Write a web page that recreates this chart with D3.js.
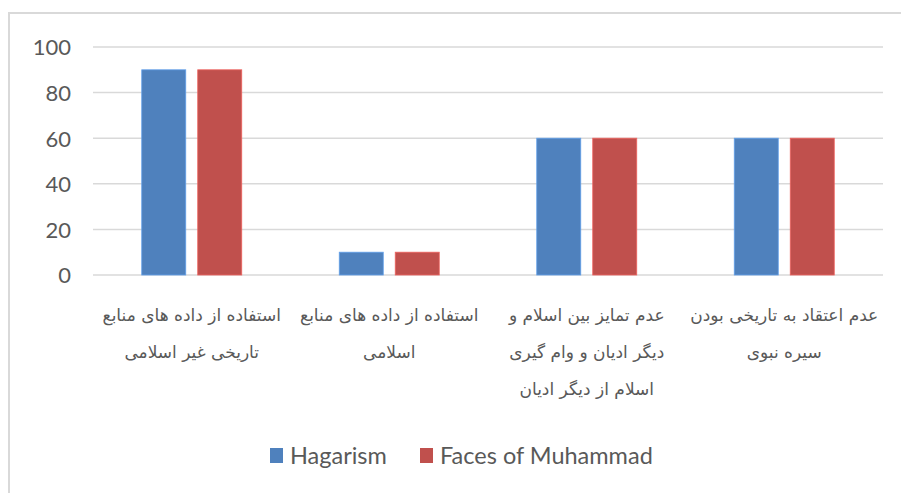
<!DOCTYPE html>
<html>
<head>
<meta charset="utf-8">
<script src="https://cdn.jsdelivr.net/npm/d3@7"></script>
<style>
  html, body { margin: 0; padding: 0; background: #fff; overflow: hidden; }
  svg { display: block; }
</style>
</head>
<body>
<svg id="chart" width="901" height="493"></svg>
<script>
// Categories (left to right), each split into its wrapped lines
const categories = [
  "استفاده از داده های منابع تاریخی غیر اسلامی",
  "استفاده از داده های منابع اسلامی",
  "عدم تمایز بین اسلام و دیگر ادیان و وام گیری اسلام از دیگر ادیان",
  "عدم اعتقاد به تاریخی بودن سیره نبوی"
];
const categoryLines = [
  ["استفاده از داده های منابع", "تاریخی غیر اسلامی"],
  ["استفاده از داده های منابع", "اسلامی"],
  ["عدم تمایز بین اسلام و", "دیگر ادیان و وام گیری", "اسلام از دیگر ادیان"],
  ["عدم اعتقاد به تاریخی بودن", "سیره نبوی"]
];
const seriesNames = ["Hagarism", "Faces of Muhammad"];
const hagarism = [90, 10, 60, 60];
const facesOfMuhammad = [90, 10, 60, 60];
const yTicks = [0, 20, 40, 60, 80, 100];
const colors = ["#4f81bd", "#c0504d"];

const svg = d3.select("#chart");

// chart area frame (extends past the right and bottom edges)
svg.append("rect")
  .attr("x", 9).attr("y", 13)
  .attr("width", 920).attr("height", 500)
  .attr("fill", "#fff")
  .attr("stroke", "#d9d9d9")
  .attr("stroke-width", 2);

const plot = { left: 93, right: 883, top: 47, bottom: 275 };

const y = d3.scaleLinear().domain([0, 100]).range([plot.bottom, plot.top]);

const x0 = d3.scaleBand()
  .domain(categories)
  .range([plot.left, plot.right])
  .paddingInner(0.4937)
  .paddingOuter(0.2468);

const x1 = d3.scaleBand()
  .domain(seriesNames)
  .range([0, x0.bandwidth()])
  .paddingInner(0.214);

// gridlines
svg.append("g")
  .selectAll("line")
  .data(yTicks)
  .join("line")
  .attr("x1", plot.left).attr("x2", plot.right)
  .attr("y1", d => y(d)).attr("y2", d => y(d))
  .attr("stroke", "#d9d9d9")
  .attr("stroke-width", 1.5);

// y axis labels
const yAxis = d3.axisLeft(y).tickValues(yTicks).tickSize(0).tickPadding(0);
svg.append("g")
  .attr("transform", "translate(71,0)")
  .call(yAxis)
  .call(g => g.select(".domain").remove())
  .call(g => g.selectAll("text")
    .attr("fill", "#595959")
    .attr("dy", "0.36em")
    .style("font-family", "Lato, 'Open Sans', sans-serif")
    .style("font-size", "22px"));

// bars
const rows = categories.map((c, i) => ({ cat: c, values: [hagarism[i], facesOfMuhammad[i]] }));

svg.append("g")
  .selectAll("g")
  .data(rows)
  .join("g")
  .attr("transform", d => `translate(${x0(d.cat)},0)`)
  .selectAll("rect")
  .data(d => d.values.map((v, j) => ({ name: seriesNames[j], value: v, color: colors[j] })))
  .join("rect")
  .attr("x", d => x1(d.name))
  .attr("y", d => y(d.value))
  .attr("width", x1.bandwidth())
  .attr("height", d => y(0) - y(d.value))
  .attr("fill", d => d.color)
  .attr("stroke", d => d3.color(d.color).brighter(0.6))
  .attr("stroke-width", 0.8);

// category labels
const labels = svg.append("g")
  .selectAll("text")
  .data(categories)
  .join("text")
  .attr("x", d => x0(d) + x0.bandwidth() / 2)
  .attr("y", 321)
  .attr("text-anchor", "middle")
  .attr("direction", "rtl")
  .attr("fill", "#595959")
  .style("font-family", "'DejaVu Sans', sans-serif")
  .style("font-size", "17px");

labels.selectAll("tspan")
  .data((d, i) => categoryLines[i])
  .join("tspan")
  .attr("x", function () { return this.parentNode.getAttribute("x"); })
  .attr("dy", (d, i) => i === 0 ? 0 : 37)
  .text(d => d);

// legend
const legend = svg.append("g")
  .selectAll("g")
  .data(seriesNames)
  .join("g")
  .attr("transform", (d, i) => `translate(${i === 0 ? 270 : 420},448)`);

legend.append("rect")
  .attr("width", 13).attr("height", 15)
  .attr("fill", (d, i) => colors[i]);

legend.append("text")
  .attr("x", 20).attr("y", 16)
  .attr("fill", "#595959")
  .style("font-family", "Lato, 'Open Sans', sans-serif")
  .style("font-size", "23.5px")
  .text(d => d);
</script>
</body>
</html>
